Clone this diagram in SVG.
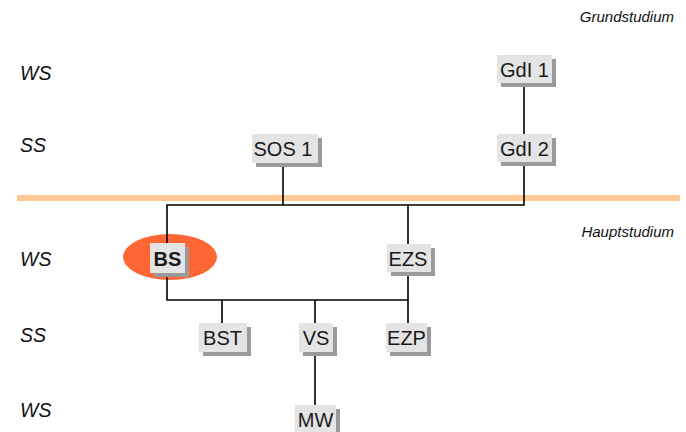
<svg xmlns="http://www.w3.org/2000/svg" width="686" height="432" viewBox="0 0 686 432">
  <style>
    .box { fill: #e4e4e4; }
    .shadow { fill: #9a9a9a; }
    .lbl { font-family: "Liberation Sans", Arial, sans-serif; font-size: 20px; fill: #1a1a1a; text-anchor: middle; }
    .bold { font-weight: bold; }
    .sem { font-family: "Liberation Sans", Arial, sans-serif; font-size: 19.5px; font-style: italic; fill: #111; }
    .phase { font-family: "Liberation Sans", Arial, sans-serif; font-size: 15px; font-style: italic; fill: #111; text-anchor: end; }
    .wire { stroke: #000; stroke-width: 1.6; fill: none; }
  </style>

  <!-- phase separator -->
  <rect x="17" y="195" width="663" height="6" fill="#ffc995"/>
  <text class="phase" x="674" y="22">Grundstudium</text>
  <text class="phase" x="674" y="237">Hauptstudium</text>

  <!-- semester labels -->
  <text class="sem" x="20" y="79.5">WS</text>
  <text class="sem" x="20" y="152">SS</text>
  <text class="sem" x="20" y="266">WS</text>
  <text class="sem" x="20" y="342">SS</text>
  <text class="sem" x="20" y="417">WS</text>

  <!-- highlight behind BS -->
  <ellipse cx="170" cy="257" rx="47" ry="23" fill="#ff6633"/>

  <!-- connectors -->
  <g id="connectors">
    <line class="wire" x1="524" y1="83" x2="524" y2="134"/>
    <polyline class="wire" points="283,163 283,205"/>
    <polyline class="wire" points="524,162 524,205 167,205 167,243"/>
    <line class="wire" x1="408" y1="205" x2="408" y2="244"/>
    <polyline class="wire" points="167,273 167,300 408,300 408,272"/>
    <line class="wire" x1="222" y1="300" x2="222" y2="323"/>
    <line class="wire" x1="315" y1="300" x2="315" y2="323"/>
    <line class="wire" x1="408" y1="300" x2="408" y2="323"/>
    <line class="wire" x1="315" y1="352" x2="315" y2="405"/>
  </g>

  <g id="gdi1">
    <rect class="shadow" x="501" y="59" width="55" height="28"/>
    <rect class="box" x="497" y="55" width="55" height="28"/>
    <text class="lbl" x="524.5" y="76.5">GdI 1</text>
  </g>
  <g id="gdi2">
    <rect class="shadow" x="501" y="138" width="55" height="28"/>
    <rect class="box" x="497" y="134" width="55" height="28"/>
    <text class="lbl" x="524.5" y="155.5">GdI 2</text>
  </g>
  <g id="sos1">
    <rect class="shadow" x="256" y="138" width="66" height="29"/>
    <rect class="box" x="252" y="134" width="66" height="29"/>
    <text class="lbl" x="283" y="156">SOS 1</text>
  </g>
  <g id="bs">
    <rect class="shadow" x="154" y="247" width="35" height="30"/>
    <rect class="box" x="150" y="243" width="35" height="30"/>
    <text class="lbl bold" x="167.5" y="265.5">BS</text>
  </g>
  <g id="ezs">
    <rect class="shadow" x="391" y="248" width="44" height="28"/>
    <rect class="box" x="387" y="244" width="44" height="28"/>
    <text class="lbl" x="408" y="265.5">EZS</text>
  </g>
  <g id="bst">
    <rect class="shadow" x="203" y="327" width="48" height="29"/>
    <rect class="box" x="199" y="323" width="48" height="29"/>
    <text class="lbl" x="222.5" y="344.5">BST</text>
  </g>
  <g id="vs">
    <rect class="shadow" x="303" y="327" width="34" height="29"/>
    <rect class="box" x="299" y="323" width="34" height="29"/>
    <text class="lbl" x="316" y="344.5">VS</text>
  </g>
  <g id="ezp">
    <rect class="shadow" x="390" y="327" width="41" height="29"/>
    <rect class="box" x="386" y="323" width="41" height="29"/>
    <text class="lbl" x="406.5" y="344.5">EZP</text>
  </g>
  <g id="mw">
    <rect class="shadow" x="299" y="409" width="41" height="28"/>
    <rect class="box" x="295" y="405" width="41" height="28"/>
    <text class="lbl" x="315.5" y="426.5">MW</text>
  </g>
</svg>
